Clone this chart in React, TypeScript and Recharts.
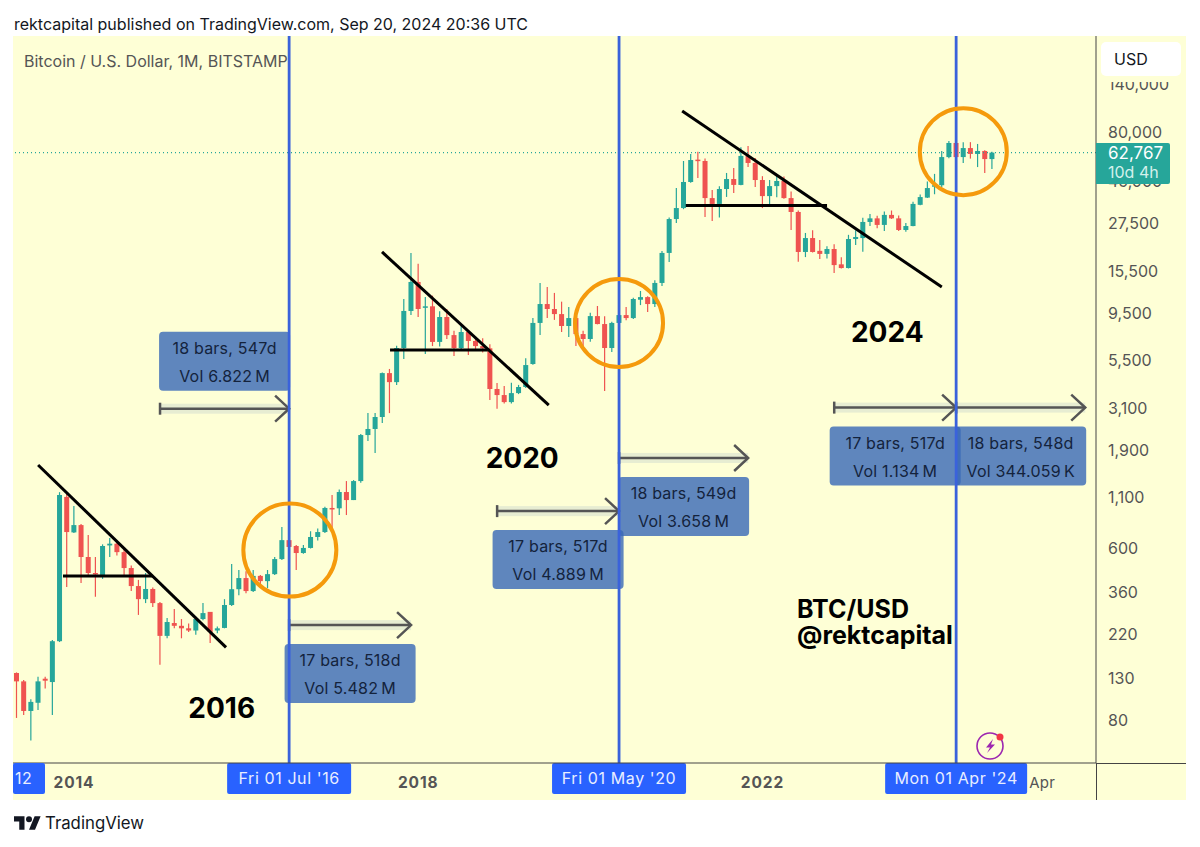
import React from 'react';
import {
  Bar, ComposedChart, ReferenceDot, ReferenceLine, XAxis, YAxis,
} from 'recharts';

// monthly BTC/USD candles, May 2013 to Sep 2024, one row per calendar year
const openPrices = [
  139, 126, 89, 98, 130, 125, 202, 1100,
  725, 790, 543, 450, 432, 622, 635, 575, 477, 386, 331, 373,
  316, 215, 250, 242, 235, 229, 262, 285, 229, 236, 309, 372,
  424, 364, 435, 409, 444, 530, 662, 618, 569, 604, 687, 728,
  966, 962, 1165, 1060, 1325, 2275, 2443, 2812, 4710, 4236, 6324, 9772,
  13740, 10150, 10320, 6793, 9100, 7360, 6324, 7630, 6870, 6470, 6300, 3908,
  3639, 3350, 3724, 4000, 5240, 8490, 10600, 10000, 9420, 8190, 8990, 7450,
  7030, 9200, 8380, 6324, 8490, 9310, 8990, 11150, 11500, 10600, 13580, 19320,
  28770, 32730, 44460, 57800, 56900, 36800, 34360, 40930, 46030, 42950, 60390, 55590,
  45500, 37670, 42360, 44980, 36800, 31260, 19540, 23010, 19800, 19100, 20230, 16900,
  16180, 22750, 23000, 27800, 29000, 26850, 30200, 29000, 25300, 26500, 34000, 37000,
  42300, 42800, 59570, 70300, 59570, 66220, 61800, 64000, 58200,
];
const highPrices = [
  140, 128, 102, 133, 133, 205, 1163, 1150,
  989, 800, 703, 543, 630, 679, 650, 611, 491, 415, 450, 380,
  320, 265, 295, 262, 249, 265, 316, 285, 240, 331, 500, 466,
  460, 466, 440, 466, 543, 773, 700, 625, 625, 735, 760, 980,
  1125, 1200, 1325, 1340, 2300, 2944, 2950, 4750, 4945, 6500, 11245, 19320,
  17000, 11500, 11700, 9750, 10000, 7750, 8190, 7800, 7050, 7100, 6600, 4190,
  4045, 4200, 4100, 5600, 8990, 13580, 12940, 12080, 10900, 10230, 9100, 7750,
  9580, 10360, 9180, 8600, 9650, 10230, 11400, 12360, 11600, 14000, 19750, 29300,
  41400, 56900, 61800, 63500, 58500, 40460, 42300, 49430, 52360, 66900, 67920, 59000,
  47600, 45500, 48100, 47400, 39800, 31800, 24430, 25200, 22500, 20900, 21400, 18350,
  23900, 25200, 29200, 30550, 29900, 31400, 31800, 30000, 27500, 35200, 38400, 44700,
  48900, 64000, 71950, 70500, 71000, 71000, 69500, 64500, 63500,
];
const lowPrices = [
  82, 85, 63, 90, 116, 85, 200, 382,
  720, 400, 440, 340, 420, 543, 553, 440, 364, 275, 316, 302,
  153, 209, 235, 209, 225, 218, 258, 198, 222, 235, 305, 347,
  355, 360, 382, 377, 440, 525, 598, 466, 565, 600, 660, 720,
  753, 890, 889, 1060, 1300, 2120, 1841, 2618, 2944, 4090, 5555, 9310,
  9100, 5900, 6470, 6430, 7030, 5755, 6100, 5820, 6110, 6000, 3436, 3100,
  3300, 3300, 3680, 3950, 5200, 7360, 8990, 8800, 7630, 7200, 6470, 6350,
  6800, 8350, 3820, 6040, 8090, 8750, 8900, 10470, 9660, 10230, 13100, 17380,
  27500, 32300, 44000, 46560, 29440, 28100, 29280, 37300, 39100, 42800, 52970, 41900,
  32730, 34300, 37200, 36500, 25300, 17400, 18400, 19400, 18000, 18100, 15280, 16100,
  16100, 21190, 19600, 26500, 25800, 25000, 28800, 25000, 24800, 26400, 33800, 36800,
  38500, 41800, 58800, 59000, 55600, 58500, 52970, 49430, 51760,
];
const closePrices = [
  126, 89, 99, 126, 127, 202, 1125, 728,
  790, 543, 450, 442, 618, 635, 575, 477, 386, 331, 373, 316,
  215, 253, 242, 235, 229, 262, 281, 225, 235, 309, 372, 424,
  364, 435, 409, 444, 530, 662, 611, 569, 604, 687, 728, 966,
  955, 1165, 1060, 1325, 2275, 2443, 2812, 4710, 4236, 6324, 9772, 13740,
  10000, 10320, 6793, 9100, 7360, 6324, 7630, 6870, 6470, 6300, 3908, 3639,
  3350, 3724, 4000, 5176, 8490, 10600, 10000, 9420, 8190, 8990, 7450, 7030,
  9200, 8380, 6324, 8490, 9310, 8990, 11245, 11500, 10600, 13580, 19320, 28770,
  32730, 44460, 57540, 56900, 36800, 34360, 40930, 46030, 42950, 60390, 55590, 45500,
  37670, 42360, 44980, 36800, 31260, 19540, 23010, 19540, 19100, 20230, 16750, 16180,
  22750, 23300, 27800, 29000, 26850, 30200, 29000, 25300, 26500, 34360, 37240, 41400,
  42800, 59570, 70300, 59570, 66220, 61800, 64000, 58200, 62767,
];

const priceTicks = [140000, 80000, 45000, 27500, 15500, 9500, 5500, 3100, 1900, 1100, 600, 360, 220, 130, 80];
const monthTicks = [8, 56, 104, 143];
const monthTickLabels = ['2014', '2018', '2022', 'Apr'];

const cycleMonths = [38, 84, 131];
const cycleLabels = ["Fri 01 Jul '16", "Fri 01 May '20", "Mon 01 Apr '24"];
const circleMonths = [38.1, 84, 132];
const circlePrices = [589, 8490, 63500];
const circleRadii = [46.5, 44, 43.5];

// sloped wedge lines and the flat lines under them, in month index / price
const trendFrom = [[3, 1600], [50.95, 19540], [92.8, 102300], [6.47, 435], [52.07, 6180], [93.3, 33730]];
const trendTo = [[29.2, 188], [74.2, 3236], [129, 12940], [19, 435], [65.7, 6180], [113, 33730]];

const rangeStart = [20, 38, 67, 84, 114, 131];
const rangeEnd = [38, 55, 84, 102, 131, 149];
const rangePrice = [3100, 244, 931, 1738, 3140, 3140];
const rangeBars = ['18 bars, 547d', '17 bars, 518d', '17 bars, 517d', '18 bars, 549d', '17 bars, 517d', '18 bars, 548d'];
const rangeVolume = ['Vol 6.822\u2009M', 'Vol 5.482\u2009M', 'Vol 4.889\u2009M', 'Vol 3.658\u2009M', 'Vol 1.134\u2009M', 'Vol 344.059\u2009K'];

const noteTexts = ['2016', '2020', '2024'];
const noteMonths = [28.6, 70.5, 121.4];
const notePrices = [92, 1730, 7640];

const lastPrice = 62767;
const domainLow = 48.3;
const domainHigh = 247000;
const FONT = 'Inter, "Noto Sans", sans-serif';

const candles = openPrices.map((open, idx) => ({
  idx,
  open,
  high: highPrices[idx],
  low: lowPrices[idx],
  close: closePrices[idx],
}));

const Candle = (props: any) => {
  const { x, y, width, height, payload } = props;
  const { open, high, low, close } = payload;
  const cx = x + width / 2;
  const span = Math.log(high / low);
  const at = (v: number) => y + (height * Math.log(high / v)) / span;
  const top = at(Math.max(open, close));
  const bottom = at(Math.min(open, close));
  const color = close >= open ? '#26A69A' : '#EF5350';
  return (
    <g>
      <line x1={cx} x2={cx} y1={y} y2={y + height} stroke={color} strokeWidth={1.2} />
      <rect x={cx - 2.5} y={top} width={5} height={Math.max(bottom - top, 1.5)} fill={color} />
    </g>
  );
};

const cycleShape = (label: string) => (props: any) => {
  const { x1, y1, y2 } = props;
  const w = label.startsWith('Mon') ? 142 : label.includes('May') ? 134 : 124;
  return (
    <g>
      <line x1={x1} x2={x1} y1={y1} y2={y2} stroke="#3A62DB" strokeWidth={2.8} />
      <rect x={x1 - w / 2} y={Math.max(y1, y2)} width={w} height={31} rx={2} fill="#2962FF" />
      <text x={x1} y={Math.max(y1, y2) + 21} textAnchor="middle" fontSize={16} letterSpacing={0.6} fontFamily={FONT} fill="#E8EEFF">
        {label}
      </text>
    </g>
  );
};

const rangeShape = (i: number) => (props: any) => {
  const { x1, x2, y1 } = props;
  const mid = (x1 + x2) / 2;
  const boxY = i === 0 ? y1 - 77 : y1 + 19;
  const textStyle = { fontSize: 16, letterSpacing: 0.2, fontFamily: FONT, fill: '#14233C' };
  return (
    <g>
      <rect x={x1} y={y1 - 5} width={x2 - x1} height={10} fill="rgba(90,130,190,0.14)" />
      <line x1={x1} x2={x2} y1={y1} y2={y1} stroke="#555" strokeWidth={2.5} />
      <line x1={x1} x2={x1} y1={y1 - 6} y2={y1 + 6} stroke="#555" strokeWidth={2.5} />
      <path d={`M${x2 - 14} ${y1 - 13}L${x2} ${y1}L${x2 - 14} ${y1 + 13}`} fill="none" stroke="#555" strokeWidth={2.5} />
      <rect x={mid - 65.5} y={boxY} width={131} height={59} rx={4} fill="rgba(55,104,182,0.8)" />
      <text x={mid} y={boxY + 22} textAnchor="middle" {...textStyle}>{rangeBars[i]}</text>
      <text x={mid} y={boxY + 50} textAnchor="middle" {...textStyle}>{rangeVolume[i]}</text>
    </g>
  );
};

const EdgeDateTag = (props: any) => {
  const { cx, cy } = props;
  return (
    <g>
      <rect x={cx} y={cy} width={32} height={31} rx={2} fill="#2962FF" />
      <text x={cx + 2} y={cy + 21} fontSize={16} letterSpacing={0.6} fontFamily={FONT} fill="#E8EEFF">12</text>
    </g>
  );
};

const MonthTick = (props: any) => {
  const { x, y, payload } = props;
  const label = monthTickLabels[monthTicks.indexOf(payload.value)];
  const isYear = label !== 'Apr';
  return (
    <text
      x={x}
      y={y + 17}
      textAnchor="middle"
      fontSize={isYear ? 15.5 : 15}
      fontFamily={FONT}
      fontWeight={isYear ? 700 : 400}
      letterSpacing={isYear ? 0.9 : 0.2}
      fill="#555"
    >
      {label}
    </text>
  );
};

const App = () => {
  return (
    <div style={{ position: 'absolute', left: 0, top: 0, width: 1200, height: 847, background: '#fff', overflow: 'hidden', fontFamily: FONT }}>
      <div style={{ position: 'absolute', left: 14, top: 14, fontSize: 16, color: '#131722', whiteSpace: 'nowrap' }}>
        rektcapital published on TradingView.com, Sep 20, 2024 20:36 UTC
      </div>
      <div style={{ position: 'absolute', left: 13, top: 36, width: 1173, height: 764, background: '#FEFFD6' }} />
      <div style={{ position: 'absolute', left: 1096, top: 763, width: 90, height: 1, background: '#444' }} />
      <div style={{ position: 'absolute', left: 1096, top: 763, width: 1, height: 37, background: '#444' }} />

      <div style={{ position: 'absolute', left: 0, top: 0 }}>
        <ComposedChart width={1200} height={847} data={candles} margin={{ top: 36, right: 14, bottom: 47, left: 13 }}>
          <XAxis
            type="number"
            dataKey="idx"
            domain={[-0.5, 150.5]}
            allowDataOverflow
            ticks={monthTicks}
            interval={0}
            height={37}
            tickLine={false}
            axisLine={{ stroke: '#444' }}
            tick={<MonthTick />}
          />
          <YAxis
            orientation="right"
            scale="log"
            type="number"
            domain={[domainLow, domainHigh]}
            allowDataOverflow
            ticks={priceTicks}
            interval={0}
            width={90}
            tickLine={false}
            tickMargin={6}
            axisLine={{ stroke: '#444' }}
            tick={{ fill: '#555', fontSize: 16, fontFamily: FONT }}
            tickFormatter={(v: number) => v.toLocaleString('en-US')}
          />
          <ReferenceLine y={lastPrice} stroke="#26A69A" strokeDasharray="1 3" strokeWidth={1.2} />
          <Bar
            dataKey={(d: any) => [d.low, d.high]}
            barSize={5}
            isAnimationActive={false}
            shape={<Candle />}
          />
          {trendFrom.map((from, i) => (
            <ReferenceLine
              key={`trend-${i}`}
              segment={[{ x: from[0], y: from[1] }, { x: trendTo[i][0], y: trendTo[i][1] }]}
              stroke="#000"
              strokeWidth={3}
            />
          ))}
          {rangeStart.map((start, i) => (
            <ReferenceLine
              key={`range-${i}`}
              segment={[{ x: start, y: rangePrice[i] }, { x: rangeEnd[i], y: rangePrice[i] }]}
              shape={rangeShape(i)}
            />
          ))}
          {cycleMonths.map((month, i) => (
            <ReferenceLine key={`cycle-${i}`} x={month} shape={cycleShape(cycleLabels[i])} />
          ))}
          {circleMonths.map((month, i) => (
            <ReferenceDot
              key={`circle-${i}`}
              x={month}
              y={circlePrices[i]}
              r={circleRadii[i]}
              fill="none"
              stroke="#F59A0C"
              strokeWidth={4}
            />
          ))}
          {noteTexts.map((note, i) => (
            <ReferenceDot
              key={`note-${i}`}
              x={noteMonths[i]}
              y={notePrices[i]}
              shape={(p: any) => (
                <text x={p.cx} y={p.cy + 10} textAnchor="middle" fontSize={28} fontWeight={700} fontFamily={FONT} fill="#000">
                  {note}
                </text>
              )}
            />
          ))}
          <ReferenceDot x={-0.5} y={domainLow} shape={<EdgeDateTag />} />
        </ComposedChart>
      </div>

      <div style={{ position: 'absolute', left: 24, top: 51, fontSize: 16, color: '#555', whiteSpace: 'nowrap' }}>
        Bitcoin / U.S. Dollar, 1M, BITSTAMP
      </div>
      <div style={{ position: 'absolute', left: 797, top: 596, fontSize: 25, lineHeight: '26px', fontWeight: 700, color: '#000' }}>
        BTC/USD<br />@rektcapital
      </div>
      {/* the currency button sits over the top tick and cuts it */}
      <div style={{ position: 'absolute', left: 1098, top: 70, width: 88, height: 12, background: '#FEFFD6' }} />
      <div style={{ position: 'absolute', left: 1101, top: 42, width: 80, height: 34, borderRadius: 5, background: '#fff', boxSizing: 'border-box', padding: '7px 13px', fontSize: 16, color: '#131722' }}>
        USD
      </div>
      <div style={{ position: 'absolute', left: 1096, top: 143, width: 74, height: 41, borderRadius: '0 2px 2px 0', background: '#26A69A', boxSizing: 'border-box', paddingLeft: 12, paddingTop: 1 }}>
        <div style={{ fontSize: 17, lineHeight: '19px', color: '#fff' }}>62,767</div>
        <div style={{ fontSize: 16, lineHeight: '19px', color: '#D4F1EC' }}>10d 4h</div>
      </div>
      <svg style={{ position: 'absolute', left: 975, top: 730 }} width={32} height={32} viewBox="0 0 32 32">
        <circle cx={15} cy={16} r={13} fill="none" stroke="#9C27B0" strokeWidth={1.6} />
        <path d="M18 9L11 17.5H15L12 23L20 14.5H16Z" fill="#9C27B0" />
        <circle cx={25} cy={7} r={3.5} fill="#F23645" />
      </svg>
      <svg style={{ position: 'absolute', left: 14, top: 816 }} width={27} height={14} viewBox="0 4 36 18">
        <path d="M14 22H7V11H0V4h14v18zM28 22h-8l7.5-18h8L28 22z" fill="#131722" />
        <circle cx={20} cy={8} r={4} fill="#131722" />
      </svg>
      <div style={{ position: 'absolute', left: 45, top: 813, fontSize: 16.8, fontWeight: 400, color: '#131722' }}>
        TradingView
      </div>
    </div>
  );
};

export default App;
